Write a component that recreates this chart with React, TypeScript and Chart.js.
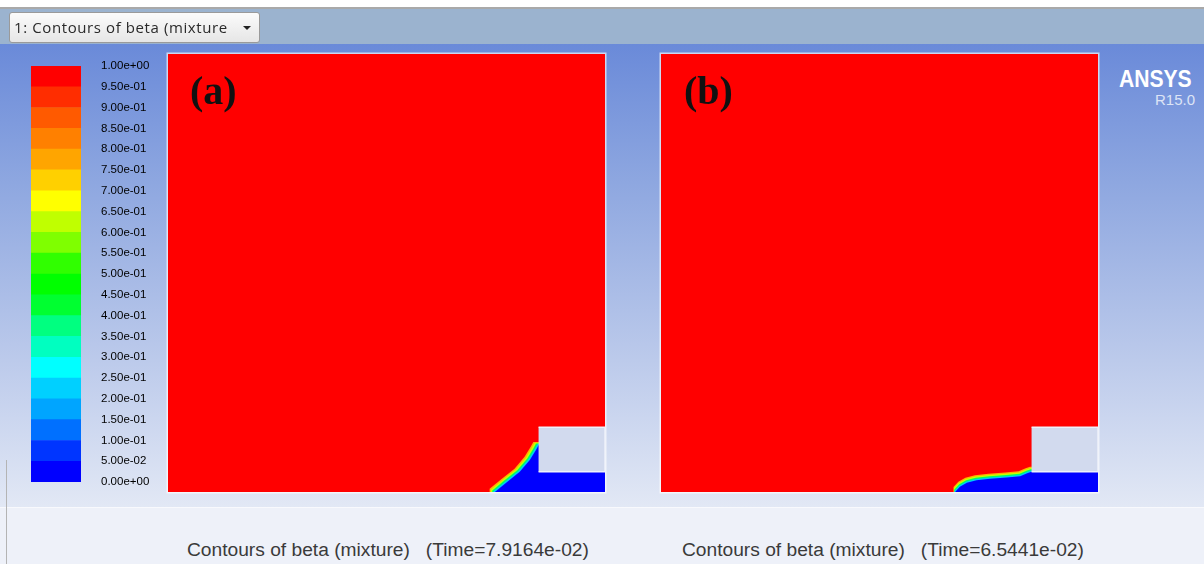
import React, { useEffect, useRef } from "react";
import { Chart, registerables } from "chart.js";

Chart.register(...registerables);

// ---------------- data ----------------
const COLORBAR_LEVELS = [
  0, 0.05, 0.1, 0.15, 0.2, 0.25, 0.3, 0.35, 0.4, 0.45, 0.5,
  0.55, 0.6, 0.65, 0.7, 0.75, 0.8, 0.85, 0.9, 0.95, 1.0,
];
const COLORBAR_TICK_LABELS = [
  "0.00e+00", "5.00e-02", "1.00e-01", "1.50e-01", "2.00e-01", "2.50e-01",
  "3.00e-01", "3.50e-01", "4.00e-01", "4.50e-01", "5.00e-01", "5.50e-01",
  "6.00e-01", "6.50e-01", "7.00e-01", "7.50e-01", "8.00e-01", "8.50e-01",
  "9.00e-01", "9.50e-01", "1.00e+00",
];
// colour of each band, from beta = 0 (bottom) to beta = 1 (top)
const COLORBAR_COLORS = [
  "#0000ff", "#0035ff", "#0070ff", "#00a5ff", "#00d0ff",
  "#00ffff", "#00ffc0", "#00ff80", "#00ff30", "#00ff00",
  "#30ff00", "#7fff00", "#c0ff00", "#ffff00", "#ffd000",
  "#ffa500", "#ff8000", "#ff5a00", "#ff2d00", "#ff0000",
];

// computational domain (normalised units 0..100)
const DOMAIN_X = [0, 100, 100, 0];
const DOMAIN_Y = [0, 0, 100, 100];

// step / obstacle in the lower right corner
const OBSTACLE_X = [84.8, 100, 100, 84.8];
const OBSTACLE_Y = [4.6, 4.6, 14.8, 14.8];

// beta = 0.5 interface, panel (a)
const INTERFACE_A_X = [74.8, 77.6, 80.5, 82.8, 84.2, 84.8];
const INTERFACE_A_Y = [0, 2.3, 4.6, 7.3, 9.6, 10.7];

// beta = 0.5 interface, panel (b)
const INTERFACE_B_X = [67.3, 68.4, 70.0, 72.2, 75.3, 79.1, 82.2, 83.8, 84.8];
const INTERFACE_B_Y = [0, 1.2, 2.1, 2.7, 3.0, 3.3, 3.6, 4.3, 4.6];

const PANEL_LABELS = ["(a)", "(b)"];
const CAPTIONS = [
  "Contours of beta (mixture)   (Time=7.9164e-02)",
  "Contours of beta (mixture)   (Time=6.5441e-02)",
];
const WINDOW_TITLE = "1: Contours of beta (mixture";

// ---------------- styles ----------------
const RED = "#ff0000";
const BLUE = "#0000ff";
const OBSTACLE_FILL = "#d2daee";
const BAND_LAYERS = [
  { color: "#00c8ff", shift: 0.3 },
  { color: "#00ff60", shift: 0.6 },
  { color: "#c8ff00", shift: 0.9 },
  { color: "#ffb000", shift: 1.2 },
];
const BAND_DIR_A = { dx: -1.0, dy: 0.6 };
const BAND_DIR_B = { dx: -0.3, dy: 0.95 };

type Pt = { x: number; y: number };
const toPts = (xs: number[], ys: number[]): Pt[] => xs.map((x, i) => ({ x, y: ys[i] }));

function shapeDataset(data: Pt[], color: string, order: number, border = 0, borderColor?: string) {
  return {
    data,
    showLine: true,
    fill: "shape",
    backgroundColor: color,
    borderColor: borderColor || color,
    borderWidth: border,
    pointRadius: 0,
    pointHoverRadius: 0,
    tension: 0,
    order,
  };
}

function ContourPanel({
  ifX,
  ifY,
  dir,
  left,
}: {
  ifX: number[];
  ifY: number[];
  dir: { dx: number; dy: number };
  left: number;
}) {
  const ref = useRef<HTMLCanvasElement>(null);
  useEffect(() => {
    if (!ref.current) return;
    const iface = toPts(ifX, ifY);
    const first = iface[0];
    const last = iface[iface.length - 1];
    const xMax = DOMAIN_X[1];
    const blue = [{ x: first.x, y: 0 }, ...iface, { x: xMax, y: last.y }, { x: xMax, y: 0 }];
    const bands = BAND_LAYERS.map((layer, k) => {
      const dx = dir.dx * layer.shift;
      const dy = dir.dy * layer.shift;
      const shifted = iface.map((p) => ({ x: p.x + dx, y: p.y + dy }));
      return shapeDataset(
        [{ x: first.x + dx, y: 0 }, ...shifted, { x: xMax, y: last.y + dy }, { x: xMax, y: 0 }],
        layer.color,
        2 + k
      );
    });
    const chart = new Chart(ref.current, {
      type: "scatter",
      data: {
        datasets: [
          shapeDataset(toPts(OBSTACLE_X, OBSTACLE_Y), OBSTACLE_FILL, 0, 1.5, "#eef1fa"),
          shapeDataset(blue, BLUE, 1),
          ...bands,
          shapeDataset(toPts(DOMAIN_X, DOMAIN_Y), RED, 20),
        ] as any,
      },
      options: {
        animation: false,
        responsive: false,
        devicePixelRatio: 1,
        events: [],
        layout: { padding: 0 },
        plugins: { legend: { display: false }, tooltip: { enabled: false } },
        scales: {
          x: { type: "linear", min: 0, max: 100, display: false },
          y: { type: "linear", min: 0, max: 100, display: false },
        },
      },
    });
    return () => chart.destroy();
  }, []);
  return (
    <canvas
      ref={ref}
      width={437}
      height={438}
      style={{
        position: "absolute",
        left,
        top: 54,
        width: 437,
        height: 438,
        boxShadow: "0 0 0 1.5px rgba(255,255,255,0.65)",
      }}
    />
  );
}

function ColorBar() {
  const ref = useRef<HTMLCanvasElement>(null);
  useEffect(() => {
    if (!ref.current) return;
    const chart = new Chart(ref.current, {
      type: "bar",
      data: {
        labels: [""],
        datasets: COLORBAR_COLORS.map((c, i) => ({
          data: [COLORBAR_LEVELS[i + 1] - COLORBAR_LEVELS[i]],
          backgroundColor: c,
          borderWidth: 0,
          barPercentage: 1,
          categoryPercentage: 1,
        })),
      },
      options: {
        animation: false,
        responsive: false,
        devicePixelRatio: 1,
        events: [],
        layout: { padding: { top: 10, bottom: 10, left: 0, right: 0 } },
        plugins: { legend: { display: false }, tooltip: { enabled: false } },
        scales: {
          x: { display: false, stacked: true },
          y: {
            stacked: true,
            position: "right",
            min: 0,
            max: 1,
            grid: { display: false, drawTicks: false },
            border: { display: false },
            afterBuildTicks: (s: any) => {
              s.ticks = COLORBAR_LEVELS.map((v) => ({ value: v }));
            },
            afterFit: (s: any) => {
              s.width = 70;
            },
            ticks: {
              padding: 20,
              autoSkip: false,
              color: "#000",
              font: { family: "'Liberation Sans', Arial, sans-serif", size: 11.5 },
              callback: (_v: any, i: number) => COLORBAR_TICK_LABELS[i],
            },
          },
        },
      },
    });
    return () => chart.destroy();
  }, []);
  return (
    <canvas
      ref={ref}
      width={120}
      height={470}
      style={{ position: "absolute", left: 31, top: 39, width: 120, height: 470 }}
    />
  );
}

export default function App() {
  const abs = (s: React.CSSProperties): React.CSSProperties => ({ position: "absolute", ...s });
  return (
    <div
      style={{
        position: "fixed",
        left: 0,
        top: 0,
        width: 1204,
        height: 564,
        overflow: "hidden",
        background: "#ffffff",
        fontFamily: "'Liberation Sans', Arial, sans-serif",
      }}
    >
      {/* title bar */}
      <div style={abs({ left: 0, top: 7, width: 1204, height: 2, background: "#a9a9a9" })} />
      <div style={abs({ left: 0, top: 9, width: 1204, height: 35, background: "#9bb3cf" })} />

      {/* graphics window */}
      <div
        style={abs({
          left: 0,
          top: 44,
          width: 1204,
          height: 463,
          background: "linear-gradient(to bottom, #6a8ad9 0%, #8ea7e0 30%, #b8c7ea 65%, #e2e8f5 100%)",
        })}
      />
      <div
        style={abs({
          left: 0,
          top: 507,
          width: 1204,
          height: 57,
          background: "#eef1f9",
          borderTop: "1px solid #f8f9fd",
        })}
      />
      <div style={abs({ left: 6, top: 460, width: 1, height: 104, background: "#b4b4b4" })} />

      <ColorBar />
      <ContourPanel ifX={INTERFACE_A_X} ifY={INTERFACE_A_Y} dir={BAND_DIR_A} left={168} />
      <ContourPanel ifX={INTERFACE_B_X} ifY={INTERFACE_B_Y} dir={BAND_DIR_B} left={661} />

      {/* window selector */}
      <div
        style={abs({
          left: 9,
          top: 12,
          width: 249,
          height: 29,
          border: "1px solid #9a9a9a",
          borderRadius: 3,
          background: "linear-gradient(#fbfbfb, #e6e6e6)",
          boxSizing: "content-box",
        })}
      >
        <div
          style={abs({
            left: 4,
            top: 4,
            fontFamily: "'Open Sans', 'Noto Sans', sans-serif",
            fontSize: 15,
            letterSpacing: 0.6,
            lineHeight: "20px",
            color: "#2a2a2a",
            whiteSpace: "pre",
          })}
        >
          {WINDOW_TITLE}
        </div>
        <div
          style={abs({
            left: 233,
            top: 13,
            width: 0,
            height: 0,
            borderLeft: "4px solid transparent",
            borderRight: "4px solid transparent",
            borderTop: "4px solid #222",
          })}
        />
      </div>

      {/* panel labels */}
      {PANEL_LABELS.map((t, i) => (
        <div
          key={t}
          style={abs({
            left: i === 0 ? 190 : 684,
            top: 71,
            fontFamily: "'Liberation Serif', 'DejaVu Serif', serif",
            fontWeight: 700,
            fontSize: 40,
            lineHeight: "40px",
            color: "#111",
          })}
        >
          {t}
        </div>
      ))}

      {/* logo */}
      <div
        style={abs({
          right: 12,
          top: 67,
          fontWeight: 700,
          fontSize: 24,
          lineHeight: "24px",
          color: "#ffffff",
          transform: "scaleX(0.88)",
          transformOrigin: "right",
        })}
      >
        ANSYS
      </div>
      <div style={abs({ right: 9, top: 91.5, fontSize: 15, lineHeight: "15px", color: "#dde4f6" })}>
        R15.0
      </div>

      {/* captions */}
      {CAPTIONS.map((c, i) => (
        <div
          key={c}
          style={abs({
            left: i === 0 ? 187 : 682,
            top: 540,
            fontSize: 19.2,
            lineHeight: "19px",
            color: "#3a3a3a",
            whiteSpace: "pre",
          })}
        >
          {c}
        </div>
      ))}
    </div>
  );
}
